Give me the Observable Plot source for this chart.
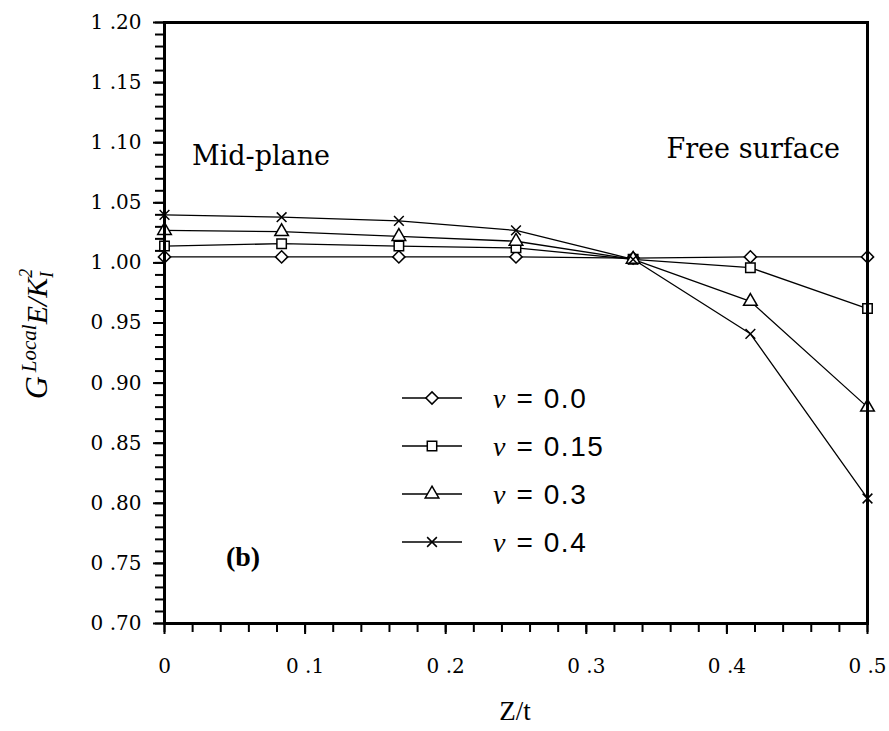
<!DOCTYPE html>
<html>
<head>
<meta charset="utf-8">
<script src="https://cdn.jsdelivr.net/npm/d3@7"></script>
<script src="https://cdn.jsdelivr.net/npm/@observablehq/plot@0.6"></script>
<style>
  html, body { margin: 0; padding: 0; background: white; }
</style>
</head>
<body>
<div id="chart"></div>
<script>
// ---- data ----
const zt = [0, 0.0833, 0.1667, 0.25, 0.3333, 0.4167, 0.5];
const gNu00 = [1.005, 1.005, 1.005, 1.005, 1.004, 1.005, 1.005];
const gNu015 = [1.014, 1.016, 1.014, 1.0125, 1.003, 0.996, 0.962];
const gNu03 = [1.027, 1.026, 1.022, 1.018, 1.003, 0.968, 0.880];
const gNu04 = [1.040, 1.038, 1.035, 1.027, 1.003, 0.941, 0.804];
const seriesNames = ["0.0", "0.15", "0.3", "0.4"];
const seriesValues = [gNu00, gNu015, gNu03, gNu04];
const seriesSymbols = ["diamond2", "square2", "triangle2", "times"];
const seriesRadius = [5.5, 6, 6.5, 4.5];
const yMajor = [0.70, 0.75, 0.80, 0.85, 0.90, 0.95, 1.00, 1.05, 1.10, 1.15, 1.20];
const yMinor = d3.range(70, 121).map(v => v / 100);
const xMajor = [0, 0.1, 0.2, 0.3, 0.4, 0.5];
const xMinor = d3.range(0, 26).map(v => v * 0.02);

const rows = [];
seriesNames.forEach((s, k) => {
  zt.forEach((z, i) => rows.push({z, g: seriesValues[k][i], s}));
});

const fmtY = d => d.toFixed(2).replace(".", " .");
const fmtX = d => d === 0 ? "0" : d.toFixed(1).replace(".", " .");

const marks = [
  Plot.axisY({ticks: yMinor, tickSize: 9, tickFormat: () => "", strokeWidth: 2, label: null}),
  Plot.axisY({ticks: yMajor, tickSize: 11, tickPadding: 12, tickFormat: fmtY, strokeWidth: 2, label: null}),
  Plot.axisX({ticks: xMinor, tickSize: 9, tickFormat: () => "", strokeWidth: 2, label: null}),
  Plot.axisX({ticks: xMajor, tickSize: 11, tickPadding: 24, tickFormat: fmtX, strokeWidth: 2, label: null}),
];
seriesNames.forEach((s) => {
  marks.push(Plot.line(rows.filter(d => d.s === s), {x: "z", y: "g", stroke: "black", strokeWidth: 1.3}));
});
seriesNames.forEach((s, k) => {
  marks.push(Plot.dot(rows.filter(d => d.s === s), {x: "z", y: "g", symbol: seriesSymbols[k], r: seriesRadius[k],
    stroke: "black", fill: "white", strokeWidth: 1.5}));
});
marks.push(Plot.frame({stroke: "black", strokeWidth: 3}));

const plot = Plot.plot({
  width: 889, height: 731,
  marginLeft: 164, marginRight: 22, marginTop: 22, marginBottom: 108,
  x: {domain: [0, 0.5]},
  y: {domain: [0.70, 1.20]},
  style: {fontFamily: "DejaVu Serif", fontSize: "20px", color: "black", background: "white"},
  marks
});
document.getElementById("chart").appendChild(plot);

// ---- annotations (text and legend) ----
const svg = d3.select(plot);
const serif = "DejaVu Serif";

// tick-label font (inline style so nothing overrides it)
svg.selectAll('g[aria-label="y-axis tick label"] text, g[aria-label="x-axis tick label"] text')
  .style("font-family", serif).style("font-size", "20px").style("fill", "black");

function addText(x, y, str, opts) {
  const t = svg.append("text").attr("x", x).attr("y", y).attr("text-anchor", opts.anchor || "start")
    .style("font-family", opts.family).style("font-size", opts.size + "px").style("fill", "black");
  if (opts.weight) t.style("font-weight", opts.weight);
  t.text(str);
  return t;
}
addText(192, 165, "Mid-plane", {family: serif, size: 27});
addText(840, 158, "Free surface", {family: serif, size: 27, anchor: "end"});
addText(243, 566, "(b)", {family: "Liberation Serif", size: 28, weight: "bold", anchor: "middle"});
addText(515, 720, "Z/t", {family: "Liberation Serif", size: 27, anchor: "middle"});

// y-axis label: G^Local E / K_I^2
const yl = svg.append("text").attr("transform", "translate(47,334) rotate(-90)").attr("text-anchor", "middle")
  .style("font-family", "Liberation Serif").style("font-style", "italic").style("fill", "black");
yl.append("tspan").style("font-size", "32px").text("G");
yl.append("tspan").style("font-size", "21px").attr("dx", 4).attr("dy", -11).text("Local");
yl.append("tspan").style("font-size", "30px").attr("dy", 11).text("E/K");
yl.append("tspan").style("font-size", "18px").attr("dy", 6).text("I");
yl.append("tspan").style("font-size", "18px").attr("dx", -6).attr("dy", -21).text("2");

// legend
const legY = [398, 446, 494, 542];
const symMap = {diamond2: d3.symbolDiamond2, square2: d3.symbolSquare2, triangle2: d3.symbolTriangle2, times: d3.symbolTimes};
seriesNames.forEach((s, k) => {
  const g = svg.append("g").attr("transform", `translate(0,${legY[k]})`);
  g.append("line").attr("x1", 402).attr("x2", 462).attr("y1", 0).attr("y2", 0)
    .attr("stroke", "black").attr("stroke-width", 1.5);
  const rr = seriesRadius[k];
  g.append("path").attr("transform", "translate(432,0)")
    .attr("d", d3.symbol(symMap[seriesSymbols[k]], rr * rr * Math.PI)())
    .attr("fill", "white").attr("stroke", "black").attr("stroke-width", 1.5);
  const t = g.append("text").attr("x", 493).attr("y", 10).attr("text-anchor", "start")
    .style("fill", "black").style("font-size", "28px");
  t.append("tspan").style("font-family", "Liberation Serif").style("font-style", "italic").text("ν");
  t.append("tspan").style("font-family", "Liberation Sans").attr("dx", 11).text("=");
  t.append("tspan").style("font-family", "Liberation Sans").attr("dx", 11).style("letter-spacing", "1.5px").text(s);
});
</script>
</body>
</html>
